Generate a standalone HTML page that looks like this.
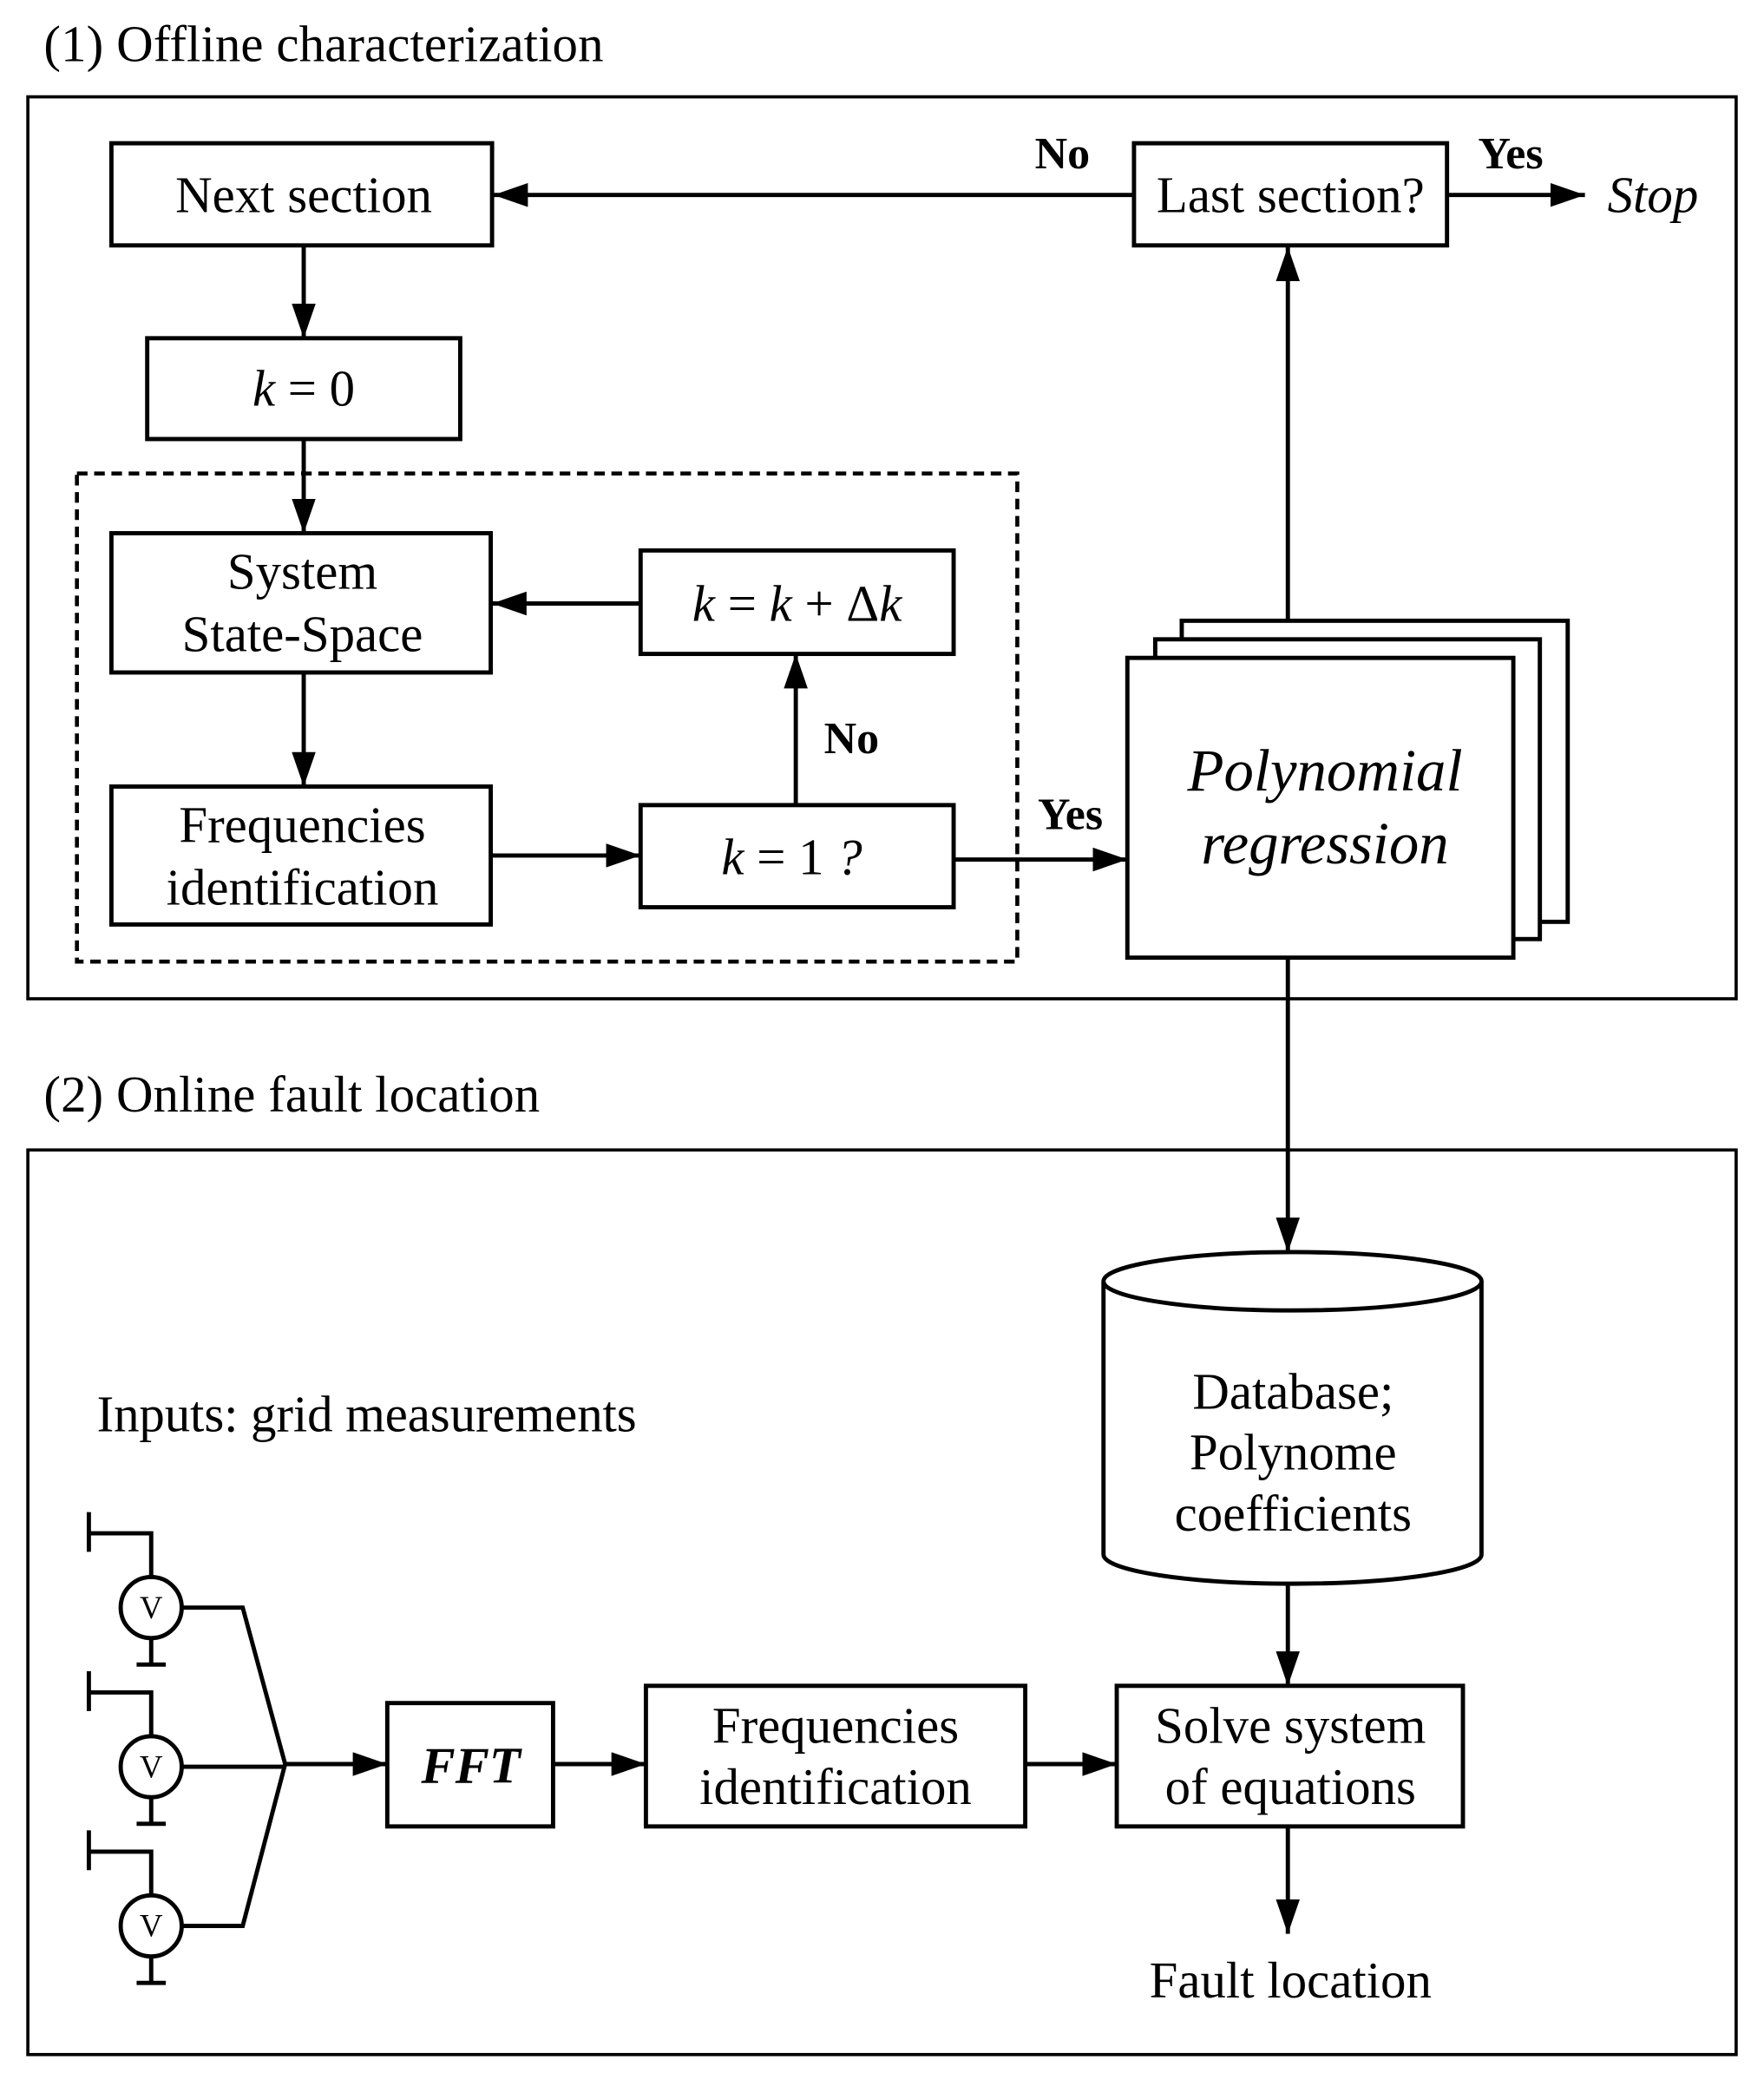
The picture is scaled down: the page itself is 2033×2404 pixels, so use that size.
<!DOCTYPE html>
<html><head><meta charset="utf-8"><style>
html,body{margin:0;padding:0;background:#fff}
svg{display:block}
text{font-family:"Liberation Serif",serif;fill:#000}
</style></head><body>
<svg width="2033" height="2404" viewBox="0 0 1330 1572.7" xmlns="http://www.w3.org/2000/svg">
<defs>
<marker id="a" markerWidth="26" markerHeight="18" refX="26" refY="9" orient="auto" markerUnits="userSpaceOnUse">
<path d="M0,0 L26,9 L0,18 Z" fill="#000"/></marker>
</defs>
<rect width="1330" height="1573" fill="#fff"/>
<g font-size="38.5">
<text x="33" y="46" textLength="422">(1) Offline characterization</text>
<text x="33" y="838" textLength="374">(2) Online fault location</text>
</g>
<g fill="none" stroke="#000">
<rect x="21" y="73" width="1288" height="680" stroke-width="2.4"/>
<rect x="21" y="867" width="1288" height="682" stroke-width="2.4"/>
<rect x="58" y="357" width="709" height="368" stroke-width="3" stroke-dasharray="8,5"/>
<g stroke-width="3.2">
<rect x="84" y="108" width="287" height="77"/>
<rect x="111" y="255" width="236" height="76"/>
<rect x="84" y="402" width="286" height="105"/>
<rect x="483" y="415" width="236" height="78"/>
<rect x="84" y="593" width="286" height="104"/>
<rect x="483" y="607" width="236" height="77"/>
<rect x="855" y="108" width="236" height="77"/>
<rect x="891" y="468" width="291" height="227" fill="#fff"/>
<rect x="871" y="482" width="290" height="226" fill="#fff"/>
<rect x="850" y="496" width="291" height="226" fill="#fff"/>
<rect x="292" y="1284" width="125" height="93"/>
<rect x="487" y="1271" width="286" height="106"/>
<rect x="842" y="1271" width="261" height="106"/>
<path d="M832,966 L832,1172 A142.5,22 0 0 0 1117,1172 L1117,966" fill="#fff"/>
<ellipse cx="974.5" cy="966" rx="142.5" ry="22" fill="#fff"/>
<line x1="855" y1="147" x2="372" y2="147" marker-end="url(#a)"/>
<line x1="1091" y1="147" x2="1195" y2="147" marker-end="url(#a)"/>
<line x1="971" y1="468" x2="971" y2="186" marker-end="url(#a)"/>
<line x1="229" y1="185" x2="229" y2="255" marker-end="url(#a)"/>
<line x1="229" y1="331" x2="229" y2="402" marker-end="url(#a)"/>
<line x1="229" y1="507" x2="229" y2="593" marker-end="url(#a)"/>
<line x1="370" y1="645" x2="483" y2="645" marker-end="url(#a)"/>
<line x1="600" y1="607" x2="600" y2="493" marker-end="url(#a)"/>
<line x1="483" y1="455" x2="371" y2="455" marker-end="url(#a)"/>
<line x1="719" y1="648" x2="850" y2="648" marker-end="url(#a)"/>
<line x1="971" y1="722" x2="971" y2="944" marker-end="url(#a)"/>
<line x1="971" y1="1194" x2="971" y2="1271" marker-end="url(#a)"/>
<line x1="971" y1="1377" x2="971" y2="1458" marker-end="url(#a)"/>
<line x1="417" y1="1330" x2="487" y2="1330" marker-end="url(#a)"/>
<line x1="773" y1="1330" x2="842" y2="1330" marker-end="url(#a)"/>
<line x1="215" y1="1330" x2="292" y2="1330" marker-end="url(#a)"/>
<path d="M67,1140 V1170 M67,1156 H114 V1189 M114,1235 V1255 M103,1255 H125"/>
<circle cx="114" cy="1212" r="23"/>
<path d="M67,1260 V1290 M67,1276 H114 V1309 M114,1355 V1375 M103,1375 H125"/>
<circle cx="114" cy="1332" r="23"/>
<path d="M67,1380 V1410 M67,1396 H114 V1429 M114,1475 V1495 M103,1495 H125"/>
<circle cx="114" cy="1452" r="23"/>
<path d="M137,1212 H183 L215,1330 L183,1452 H137 M137,1332 H215"/>
</g>
</g>
<g font-size="24" text-anchor="middle">
<text x="114" y="1220">V</text><text x="114" y="1340">V</text><text x="114" y="1460">V</text>
</g>
<g font-size="38.5" text-anchor="middle">
<text x="229" y="160">Next section</text>
<text x="229" y="306"><tspan font-style="italic">k</tspan> = 0</text>
<text x="228" y="444">System</text>
<text x="228" y="491">State-Space</text>
<text x="601" y="468"><tspan font-style="italic">k</tspan> = <tspan font-style="italic">k</tspan> + Δ<tspan font-style="italic">k</tspan></text>
<text x="228" y="635">Frequencies</text>
<text x="228" y="682">identification</text>
<text x="597" y="659"><tspan font-style="italic">k</tspan> = 1 <tspan font-style="italic">?</tspan></text>
<text x="973" y="160">Last section?</text>
<text x="999" y="596" font-style="italic" font-size="45">Polynomial</text>
<text x="999" y="651" font-style="italic" font-size="45">regression</text>
<text x="975" y="1062">Database;</text>
<text x="975" y="1108">Polynome</text>
<text x="975" y="1154">coefficients</text>
<text x="355" y="1344" font-style="italic" font-weight="bold">FFT</text>
<text x="630" y="1314">Frequencies</text>
<text x="630" y="1360">identification</text>
<text x="973" y="1314">Solve system</text>
<text x="973" y="1360">of equations</text>
<text x="973" y="1506">Fault location</text>
</g>
<g font-size="34" font-weight="bold" text-anchor="middle">
<text x="801" y="127">No</text>
<text x="1139" y="127">Yes</text>
<text x="642" y="568">No</text>
<text x="807" y="625">Yes</text>
</g>
<text x="1212" y="160" font-size="38.5" font-style="italic">Stop</text>
<text x="73" y="1079" font-size="38.5" textLength="407">Inputs: grid measurements</text>
</svg>
</body></html>
